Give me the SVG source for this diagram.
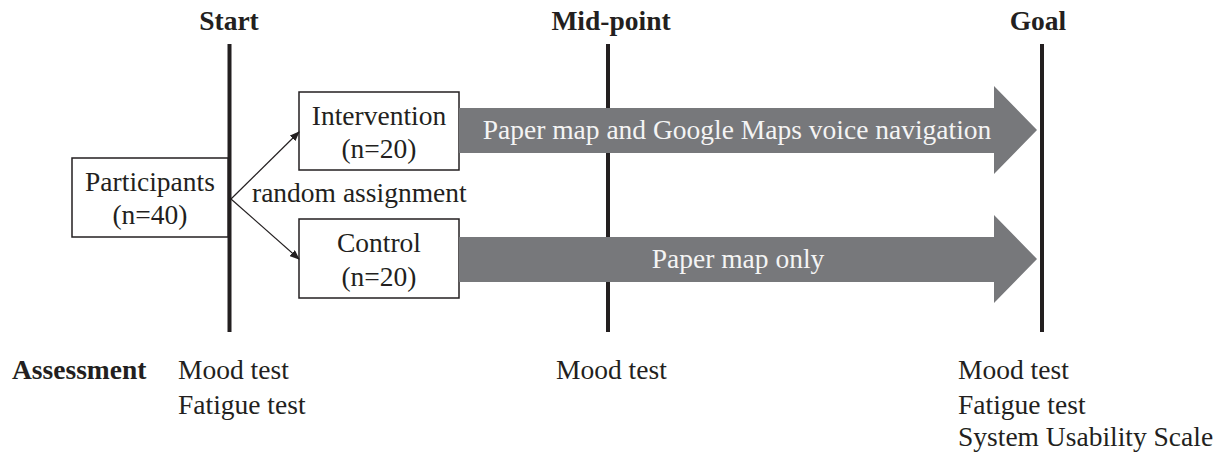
<svg xmlns="http://www.w3.org/2000/svg" width="1224" height="455" viewBox="0 0 1224 455">
<style>
text{font-family:"Liberation Serif","Times New Roman",serif;font-size:27.5px;fill:#231f20}
.b{font-weight:bold}
.c{text-anchor:middle}
.w{fill:#f4f4f4}
.tl{stroke:#231f20;stroke-width:4}
.box{fill:#fff;stroke:#231f20;stroke-width:1.5}
.big{fill:#77787b}
.thin{stroke:#231f20;stroke-width:1.2;fill:none}
</style>
<defs>
<marker id="ah" markerWidth="10" markerHeight="8" refX="9" refY="4" orient="auto" markerUnits="userSpaceOnUse">
<path d="M0,0 L10,4 L0,8 Z" fill="#231f20"/>
</marker>
</defs>
<rect width="1224" height="455" fill="#fff"/>
<g id="timeline">
<line class="tl" x1="229.5" y1="44" x2="229.5" y2="332"/>
<line class="tl" x1="608" y1="44" x2="608" y2="332"/>
<line class="tl" x1="1042" y1="44" x2="1042" y2="332"/>
<text class="b c" x="229" y="30">Start</text>
<text class="b c" x="611" y="30">Mid-point</text>
<text class="b c" x="1038" y="30">Goal</text>
</g>
<g id="participants">
<rect class="box" x="72" y="158" width="156" height="79"/>
<text class="c" x="150" y="191">Participants</text>
<text class="c" x="150" y="224">(n=40)</text>
</g>
<g id="intervention">
<rect class="box" x="299" y="92" width="160" height="78"/>
<text class="c" x="379" y="125">Intervention</text>
<text class="c" x="379" y="158">(n=20)</text>
</g>
<g id="control">
<rect class="box" x="299" y="219" width="160" height="79"/>
<text class="c" x="379" y="252">Control</text>
<text class="c" x="379" y="286">(n=20)</text>
</g>
<g id="connectors">
<line class="thin" x1="231" y1="199" x2="299" y2="132" marker-end="url(#ah)"/>
<line class="thin" x1="231" y1="199" x2="299" y2="259" marker-end="url(#ah)"/>
<text x="252" y="202">random assignment</text>
</g>
<g id="intervention-arrow">
<polygon class="big" points="459,108 994,108 994,86 1037,130 994,174 994,153 459,153"/>
<text class="c w" x="737" y="139">Paper map and Google Maps voice navigation</text>
</g>
<g id="control-arrow">
<polygon class="big" points="459,237 994,237 994,215 1037,259 994,303 994,282 459,282"/>
<text class="c w" x="738" y="268">Paper map only</text>
</g>
<g id="assessment">
<text class="b" x="12" y="379">Assessment</text>
<text x="178" y="379">Mood test</text>
<text x="178" y="414">Fatigue test</text>
<text x="556" y="379">Mood test</text>
<text x="958" y="379">Mood test</text>
<text x="958" y="414">Fatigue test</text>
<text x="958" y="446">System Usability Scale</text>
</g>
</svg>
